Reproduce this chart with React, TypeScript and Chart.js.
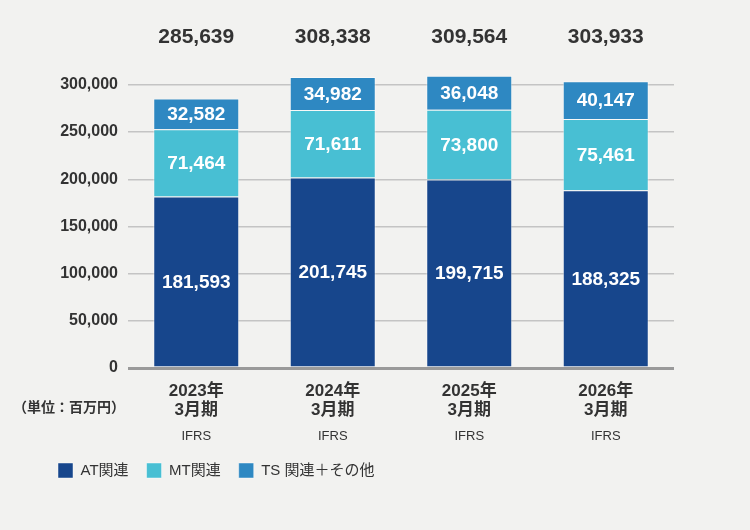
import { useEffect, useRef } from 'react'
import { Chart, registerables } from 'chart.js'

Chart.register(...registerables)

const years = ['2023年', '2024年', '2025年', '2026年']
const periodLabel = '3月期'
const standardLabel = 'IFRS'
const atValues = [181593, 201745, 199715, 188325]
const mtValues = [71464, 71611, 73800, 75461]
const tsValues = [32582, 34982, 36048, 40147]
const totals = [285639, 308338, 309564, 303933]
const yTicks = [0, 50000, 100000, 150000, 200000, 250000, 300000]
const unitLabel = '（単位：百万円）'

const FONT = "'Liberation Sans', 'Noto Sans CJK JP', Arial, sans-serif"
const TEXT = '#333333'
const fmt = (v: number) => v.toLocaleString('en-US')

const labelPlugin = {
  id: 'customLabels',
  afterDatasetsDraw(chart: any) {
    const { ctx, scales } = chart
    const x = scales.x
    const y = scales.y
    ctx.save()
    ctx.textAlign = 'center'
    ctx.textBaseline = 'middle'

    // values inside bars
    chart.data.datasets.forEach((ds: any, di: number) => {
      const meta = chart.getDatasetMeta(di)
      meta.data.forEach((bar: any, i: number) => {
        const mid = (bar.y + bar.base) / 2
        ctx.fillStyle = '#ffffff'
        ctx.font = `bold 19px ${FONT}`
        ctx.fillText(fmt(ds.data[i]), bar.x, mid + 1)
      })
    })

    // totals above
    ctx.fillStyle = TEXT
    ctx.font = `bold 21px ${FONT}`
    totals.forEach((t, i) => {
      ctx.fillText(fmt(t), x.getPixelForValue(i), 37)
    })

    // category labels
    const base = y.getPixelForValue(0)
    years.forEach((yr, i) => {
      const cx = x.getPixelForValue(i)
      ctx.fillStyle = TEXT
      ctx.font = `bold 17px ${FONT}`
      ctx.fillText(yr, cx, base + 23)
      ctx.fillText(periodLabel, cx, base + 42)
      ctx.font = `13px ${FONT}`
      ctx.fillText(standardLabel, cx, base + 68)
    })

    // unit label
    ctx.textAlign = 'left'
    ctx.font = `bold 14px ${FONT}`
    ctx.fillText(unitLabel, 13, base + 40)
    ctx.restore()
  }
}

export default function App() {
  const chartRef = useRef<HTMLCanvasElement>(null)
  const chartInstance = useRef<Chart | null>(null)

  useEffect(() => {
    if (!chartRef.current) return
    document.body.style.margin = '0'

    const config: any = {
      type: 'bar',
      data: {
        labels: years,
        datasets: [
          {
            label: 'AT関連',
            data: atValues,
            backgroundColor: '#17468c',
            borderColor: 'rgba(255,255,255,0.45)',
            borderWidth: 1
          },
          {
            label: 'MT関連',
            data: mtValues,
            backgroundColor: '#48bfd3',
            borderColor: 'rgba(255,255,255,0.45)',
            borderWidth: 1
          },
          {
            label: 'TS 関連＋その他',
            data: tsValues,
            backgroundColor: '#2e88c2',
            borderColor: 'rgba(255,255,255,0.45)',
            borderWidth: 1
          }
        ]
      },
      options: {
        responsive: false,
        animation: false,
        layout: { padding: { top: 66, left: 40, right: 76, bottom: 42 } },
        datasets: { bar: { categoryPercentage: 1, barPercentage: 0.63 } },
        plugins: {
          legend: {
            position: 'bottom',
            align: 'start',
            labels: {
              color: TEXT,
              boxWidth: 15,
              boxHeight: 15,
              padding: 18,
              font: { family: FONT, size: 15 }
            }
          },
          title: { display: false },
          tooltip: { enabled: false }
        },
        scales: {
          x: {
            stacked: true,
            grid: { display: false, drawTicks: false },
            border: { display: false },
            ticks: { display: false },
            afterFit: (s: any) => { s.height = 77 }
          },
          y: {
            stacked: true,
            min: 0,
            max: 320000,
            afterBuildTicks: (s: any) => { s.ticks = yTicks.map(v => ({ value: v })) },
            afterFit: (s: any) => { s.width = 88 },
            grid: {
              drawTicks: false,
              color: (c: any) => (c.tick && c.tick.value === 0 ? '#9a9a9a' : '#c4c4c4'),
              lineWidth: (c: any) => (c.tick && c.tick.value === 0 ? 3 : 1.5)
            },
            border: { display: false },
            ticks: {
              color: TEXT,
              padding: 10,
              font: { family: FONT, size: 16, weight: 'bold' },
              callback: (v: any) => fmt(Number(v))
            }
          }
        }
      },
      plugins: [labelPlugin]
    }

    if (chartInstance.current) chartInstance.current.destroy()
    chartInstance.current = new Chart(chartRef.current, config)

    return () => {
      if (chartInstance.current) chartInstance.current.destroy()
    }
  }, [])

  return (
    <div style={{ width: 750, height: 530, background: '#f2f2f0' }}>
      <canvas ref={chartRef} width={750} height={530} />
    </div>
  )
}
